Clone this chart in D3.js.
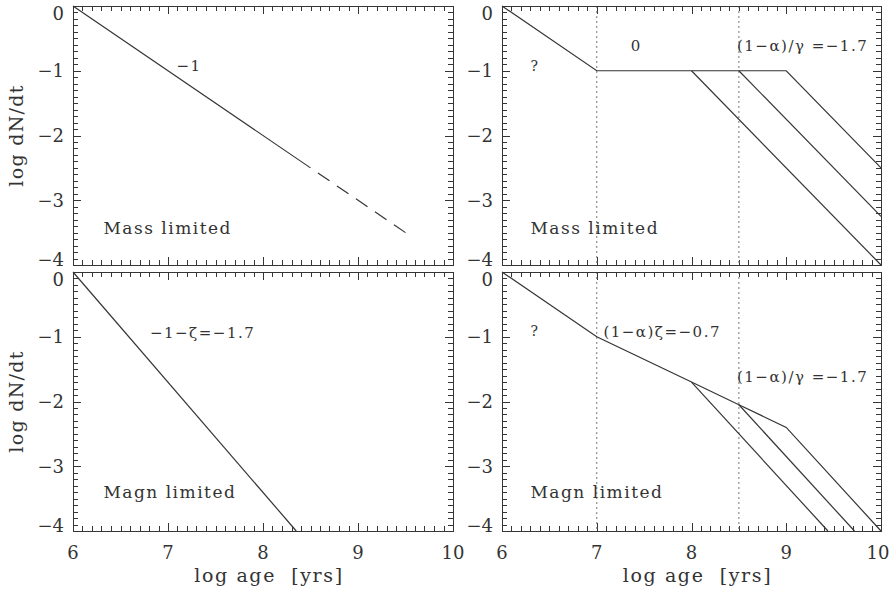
<!DOCTYPE html>
<html>
<head>
<meta charset="utf-8">
<script src="https://cdn.jsdelivr.net/npm/d3@7"></script>
<style>
  body { margin: 0; background: #fff; }
  svg text { font-family: "DejaVu Serif", serif; fill: #333; }
</style>
</head>
<body>
<div id="chart"></div>
<script>
var X_TICKS = [6, 7, 8, 9, 10];
var Y_TICKS = [0, -1, -2, -3, -4];
var PHASE_BREAKS = [7, 8.5];

// top left: mass limited, single cluster
var massSimple = [[6, 0], [8.5, -2.5]];
var massSimpleExt = [[8.5, -2.5], [9.5, -3.5]];
// bottom left: magnitude limited, single cluster
var magnSimple = [[6, 0], [8.35, -4]];
// top right: mass limited with disruption
var massMain = [[6, 0], [7, -1], [9, -1], [10, -2.5]];
var massBranch1 = [[8, -1], [10, -4]];
var massBranch2 = [[8.5, -1], [10, -3.25]];
// bottom right: magnitude limited with disruption
var magnMain = [[6, 0], [7, -1], [8, -1.7], [8.5, -2.05], [9, -2.4], [10, -4]];
var magnBranch1 = [[8, -1.7], [9.44, -4]];
var magnBranch2 = [[8.5, -2.05], [9.72, -4]];

var notesTL = [{ x: 7.09, y: -0.93, t: '\u22121', size: 15 },
               { x: 6.32, y: -3.43, t: 'Mass limited', size: 17 }];
var notesTR = [{ x: 6.3, y: -0.93, t: '?', size: 14 },
               { x: 7.36, y: -0.62, t: '0', size: 15 },
               { x: 8.48, y: -0.62, t: '(1\u2212\u03b1)/\u03b3 =\u22121.7', size: 15 },
               { x: 6.3, y: -3.43, t: 'Mass limited', size: 17 }];
var notesBL = [{ x: 6.81, y: -0.94, t: '\u22121\u2212\u03b6=\u22121.7', size: 15 },
               { x: 6.32, y: -3.4, t: 'Magn limited', size: 17 }];
var notesBR = [{ x: 6.3, y: -0.92, t: '?', size: 14 },
               { x: 7.07, y: -0.92, t: '(1\u2212\u03b1)\u03b6=\u22120.7', size: 15 },
               { x: 8.48, y: -1.62, t: '(1\u2212\u03b1)/\u03b3 =\u22121.7', size: 15 },
               { x: 6.3, y: -3.4, t: 'Magn limited', size: 17 }];

var COLS = [[73, 453], [502, 881]];
var ROWS = [[6, 265], [272, 531]];
var INK = '#353535';

var svg = d3.select('#chart').append('svg')
  .attr('width', 892)
  .attr('height', 593);

function lineGen (x, y) {
  return d3.line().x(function (d) { return x(d[0]); }).y(function (d) { return y(d[1]); });
}

// every 0.1 between lo and hi, with the length of the tick
function tickSet (lo, hi) {
  return d3.range(Math.round(lo * 10), Math.round(hi * 10) + 1).map(function (k) {
    return { v: k / 10, len: k % 10 === 0 ? 8 : 5 };
  });
}

function drawPanel (col, row, spec) {
  var x = d3.scaleLinear().domain([6, 10]).range(COLS[col]);
  var y = d3.scaleLinear().domain([0, -4]).range(ROWS[row]);
  var x0 = COLS[col][0], x1 = COLS[col][1];
  var y0 = ROWS[row][0], y1 = ROWS[row][1];
  var g = svg.append('g');

  // inward ticks on all four sides
  var xt = tickSet(6, 10), yt = tickSet(-4, 0);
  var ticks = g.append('g')
    .attr('stroke', INK)
    .attr('stroke-width', 1)
    .attr('shape-rendering', 'crispEdges');
  [y0, y1].forEach(function (edge, i) {
    var dir = i === 0 ? 1 : -1;
    ticks.selectAll(null).data(xt).enter().append('line')
      .attr('x1', function (d) { return Math.round(x(d.v)) + 0.5; })
      .attr('x2', function (d) { return Math.round(x(d.v)) + 0.5; })
      .attr('y1', edge)
      .attr('y2', function (d) { return edge + dir * d.len; });
  });
  [x0, x1].forEach(function (edge, i) {
    var dir = i === 0 ? 1 : -1;
    ticks.selectAll(null).data(yt).enter().append('line')
      .attr('y1', function (d) { return Math.round(y(d.v)) + 0.5; })
      .attr('y2', function (d) { return Math.round(y(d.v)) + 0.5; })
      .attr('x1', edge)
      .attr('x2', function (d) { return edge + dir * d.len; });
  });

  // tick labels
  g.append('g').selectAll('text')
    .data(Y_TICKS)
    .enter().append('text')
      .attr('x', x0 - 9)
      .attr('y', function (d) { return Math.min(Math.max(y(d), y0 + 8), y1 - 5); })
      .attr('dy', '0.36em')
      .attr('text-anchor', 'end')
      .attr('font-size', 18)
      .text(function (d) { return d3.format('d')(d); });

  if (row === 1) {
    g.append('g').selectAll('text')
      .data(X_TICKS)
      .enter().append('text')
        .attr('x', function (d) { return Math.min(x(d), 878); })
        .attr('y', y1 + 28)
        .attr('text-anchor', 'middle')
        .attr('font-size', 18)
        .text(function (d) { return d; });
    g.append('text')
      .attr('x', (x0 + x1) / 2 + 6)
      .attr('y', y1 + 51)
      .attr('text-anchor', 'middle')
      .attr('font-size', 19)
      .attr('letter-spacing', 1.6)
      .style('white-space', 'pre')
      .text('log age  [yrs]');
  }
  if (col === 0) {
    g.append('text')
      .attr('transform', 'translate(23,' + ((y0 + y1) / 2) + ') rotate(-90)')
      .attr('text-anchor', 'middle')
      .attr('font-size', 19)
      .attr('letter-spacing', 1.3)
      .text('log dN/dt');
  }

  // phase boundaries
  if (spec.breaks) {
    g.append('g').selectAll('line')
      .data(spec.breaks)
      .enter().append('line')
        .attr('x1', function (d) { return x(d); })
        .attr('x2', function (d) { return x(d); })
        .attr('y1', y0)
        .attr('y2', y1)
        .attr('stroke', '#777')
        .attr('stroke-width', 1)
        .attr('stroke-dasharray', '2,3');
  }

  // model curves
  spec.lines.forEach(function (l) {
    g.append('path')
      .attr('d', lineGen(x, y)(l.pts))
      .attr('fill', 'none')
      .attr('stroke', INK)
      .attr('stroke-width', 1.2)
      .attr('stroke-dasharray', l.dash || null)
      .attr('stroke-dashoffset', l.dash ? 14 : null);
  });

  // frame
  g.append('rect')
    .attr('x', x0 + 0.5).attr('y', y0 + 0.5)
    .attr('width', x1 - x0).attr('height', y1 - y0)
    .attr('fill', 'none')
    .attr('stroke', INK)
    .attr('stroke-width', 1)
    .attr('shape-rendering', 'crispEdges');

  // annotations
  g.append('g').selectAll('text')
    .data(spec.notes)
    .enter().append('text')
      .attr('x', function (d) { return x(d.x); })
      .attr('y', function (d) { return y(d.y); })
      .attr('dy', '0.35em')
      .attr('font-size', function (d) { return d.size; })
      .attr('letter-spacing', 1.5)
      .style('white-space', 'pre')
      .text(function (d) { return d.t; });
}

drawPanel(0, 0, { lines: [{ pts: massSimple }, { pts: massSimpleExt, dash: '14,9' }], notes: notesTL });
drawPanel(1, 0, { lines: [{ pts: massMain }, { pts: massBranch1 }, { pts: massBranch2 }], notes: notesTR, breaks: PHASE_BREAKS });
drawPanel(0, 1, { lines: [{ pts: magnSimple }], notes: notesBL });
drawPanel(1, 1, { lines: [{ pts: magnMain }, { pts: magnBranch1 }, { pts: magnBranch2 }], notes: notesBR, breaks: PHASE_BREAKS });
</script>
</body>
</html>
